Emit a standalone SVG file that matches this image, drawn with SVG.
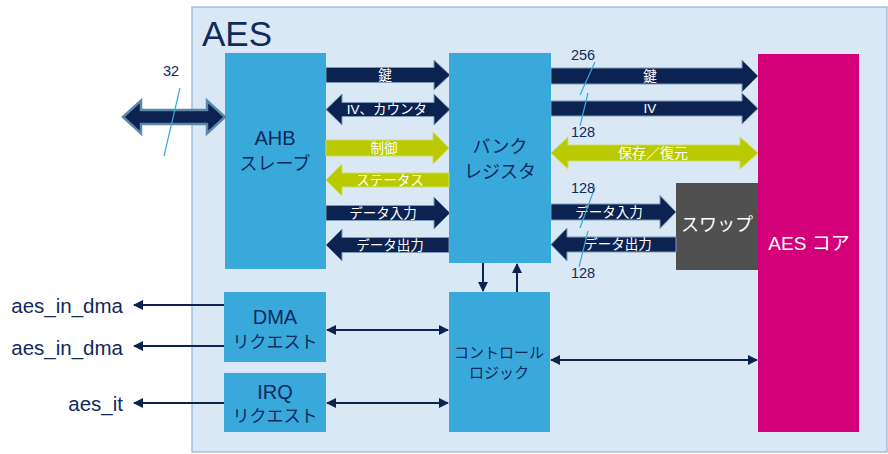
<svg xmlns="http://www.w3.org/2000/svg" width="888" height="454" viewBox="0 0 888 454">
<defs>
<style>
text{font-family:"Liberation Sans","Noto Sans CJK JP",sans-serif}
.blk{fill:#39a9dc}
.dk{fill:#0f2a5c}
.wt{fill:#ffffff}
.lbl{font-size:13.5px;fill:#ffffff;text-anchor:middle}
.num{font-size:14.5px;fill:#0f2a5c;text-anchor:middle}
.nv{fill:#0c2250;stroke:#7d99b8;stroke-width:1}
.lm{fill:#b9cb00;stroke:#d0dc60;stroke-width:1}
.thin{stroke:#0c2250;stroke-width:2;fill:none}
.sl{stroke:#3aa8dc;stroke-width:1.2;fill:none}
.sig{font-size:20.5px;fill:#0f2a5c;text-anchor:end}
</style>
<marker id="ah" viewBox="0 0 10 10" refX="9" refY="5" markerWidth="5" markerHeight="5" orient="auto-start-reverse" markerUnits="strokeWidth">
<path d="M0,0 L10,5 L0,10 Z" fill="#0c2250"/>
</marker>
</defs>
<rect id="aes" x="192" y="7" width="695" height="445" fill="#dae8f5" stroke="#93b3d3" stroke-width="1.2"/>
<text x="202" y="46" font-size="35" class="dk">AES</text>
<g id="ahb"><rect class="blk" x="225" y="53" width="101" height="216"/>
<text x="275" y="145" font-size="20" class="dk" text-anchor="middle">AHB</text>
<text x="275" y="170" font-size="18" class="dk" text-anchor="middle">スレーブ</text></g>
<g id="bank"><rect class="blk" x="449" y="53" width="102" height="210"/>
<text x="500" y="153" font-size="18" class="dk" text-anchor="middle">バンク</text>
<text x="500" y="178" font-size="18" class="dk" text-anchor="middle">レジスタ</text></g>
<g id="core"><rect x="758" y="54" width="101" height="378" fill="#d4007a"/>
<text x="809" y="250" font-size="19" class="wt" text-anchor="middle">AES コア</text></g>
<g id="swap"><rect x="676" y="183" width="82" height="87" fill="#505050"/>
<text x="717" y="231" font-size="18" class="wt" text-anchor="middle">スワップ</text></g>
<g id="ctrl"><rect class="blk" x="449" y="292" width="101" height="140"/>
<text x="499" y="358" font-size="15" class="dk" text-anchor="middle">コントロール</text>
<text x="499" y="378" font-size="15" class="dk" text-anchor="middle">ロジック</text></g>
<g id="dma"><rect class="blk" x="224" y="292" width="102" height="70"/>
<text x="275" y="324" font-size="20" class="dk" text-anchor="middle">DMA</text>
<text x="275" y="348" font-size="17" class="dk" text-anchor="middle">リクエスト</text></g>
<g id="irq"><rect class="blk" x="224" y="373" width="102" height="59"/>
<text x="275" y="399" font-size="20" class="dk" text-anchor="middle">IRQ</text>
<text x="275" y="422" font-size="17" class="dk" text-anchor="middle">リクエスト</text></g>
<g id="connectors">
<path class="nv" style="stroke:#5b87ad;stroke-width:2.5" d="M123,117 L141,100.5 L141,110 L207,110 L207,100.5 L225,117 L207,133.5 L207,124 L141,124 L141,133.5 Z"/>
<line class="sl" x1="180" y1="88" x2="164" y2="156"/>
<text class="num" x="171" y="76">32</text>
<path class="nv" d="M326,67.5 L434,67.5 L434,60 L450,75 L434,90 L434,82.5 L326,82.5 Z"/>
<text class="lbl" x="385" y="80">鍵</text>
<path class="nv" d="M326,109.5 L342,94 L342,102.5 L434,102.5 L434,94 L450,109.5 L434,125 L434,116.5 L342,116.5 L342,125 Z"/>
<text class="lbl" x="387" y="114">IV、カウンタ</text>
<path class="lm" d="M326,140 L433,140 L433,132 L449,148 L433,164 L433,156 L326,156 Z"/>
<text class="lbl" x="384" y="153">制御</text>
<path class="lm" d="M449,173 L342,173 L342,164 L326,180 L342,196 L342,187 L449,187 Z"/>
<text class="lbl" x="390" y="185">ステータス</text>
<path class="nv" d="M326,205.5 L434,205.5 L434,197 L450,213 L434,229 L434,220.5 L326,220.5 Z"/>
<text class="lbl" x="383" y="218">データ入力</text>
<path class="nv" d="M449,237.5 L342,237.5 L342,229 L326,245 L342,261 L342,252.5 L449,252.5 Z"/>
<text class="lbl" x="390" y="250">データ出力</text>
<path class="nv" d="M551,68 L742,68 L742,60 L758,76 L742,92 L742,84 L551,84 Z"/>
<text class="lbl" x="650" y="81">鍵</text>
<path class="nv" d="M551,101 L742,101 L742,93 L758,108.5 L742,124 L742,116 L551,116 Z"/>
<text class="lbl" x="650" y="113">IV</text>
<path class="lm" d="M551,153 L568,137 L568,145 L740,145 L740,137 L758,153 L740,169 L740,161 L568,161 L568,169 Z"/>
<text class="lbl" x="653" y="158" style="font-size:14px">保存／復元</text>
<path class="nv" d="M551,204 L660,204 L660,195.5 L676,212 L660,228.5 L660,220 L551,220 Z"/>
<text class="lbl" x="609" y="217">データ入力</text>
<path class="nv" d="M676,237 L567,237 L567,228 L551,244.5 L567,261 L567,252 L676,252 Z"/>
<text class="lbl" x="618" y="249">データ出力</text>
<line class="sl" x1="595" y1="62" x2="580" y2="95"/>
<text class="num" x="583" y="60">256</text>
<line class="sl" x1="588" y1="93" x2="580" y2="126"/>
<text class="num" x="583" y="137">128</text>
<line class="sl" x1="595" y1="187" x2="580" y2="228"/>
<text class="num" x="583" y="193">128</text>
<line class="sl" x1="588" y1="231" x2="579" y2="267"/>
<text class="num" x="583" y="278">128</text>
<line class="thin" x1="483" y1="263" x2="483" y2="291" marker-end="url(#ah)"/>
<line class="thin" x1="517" y1="292" x2="517" y2="264" marker-end="url(#ah)"/>
<line class="thin" x1="327" y1="330" x2="448" y2="330" marker-start="url(#ah)" marker-end="url(#ah)"/>
<line class="thin" x1="327" y1="403" x2="448" y2="403" marker-start="url(#ah)" marker-end="url(#ah)"/>
<line class="thin" x1="551" y1="360" x2="757" y2="360" marker-start="url(#ah)" marker-end="url(#ah)"/>
<line class="thin" x1="224" y1="305" x2="134" y2="305" marker-end="url(#ah)"/>
<line class="thin" x1="224" y1="346" x2="134" y2="346" marker-end="url(#ah)"/>
<line class="thin" x1="224" y1="403" x2="134" y2="403" marker-end="url(#ah)"/>
</g>
<text class="sig" x="123" y="313">aes_in_dma</text>
<text class="sig" x="123" y="355">aes_in_dma</text>
<text class="sig" x="123" y="411">aes_it</text>
</svg>
